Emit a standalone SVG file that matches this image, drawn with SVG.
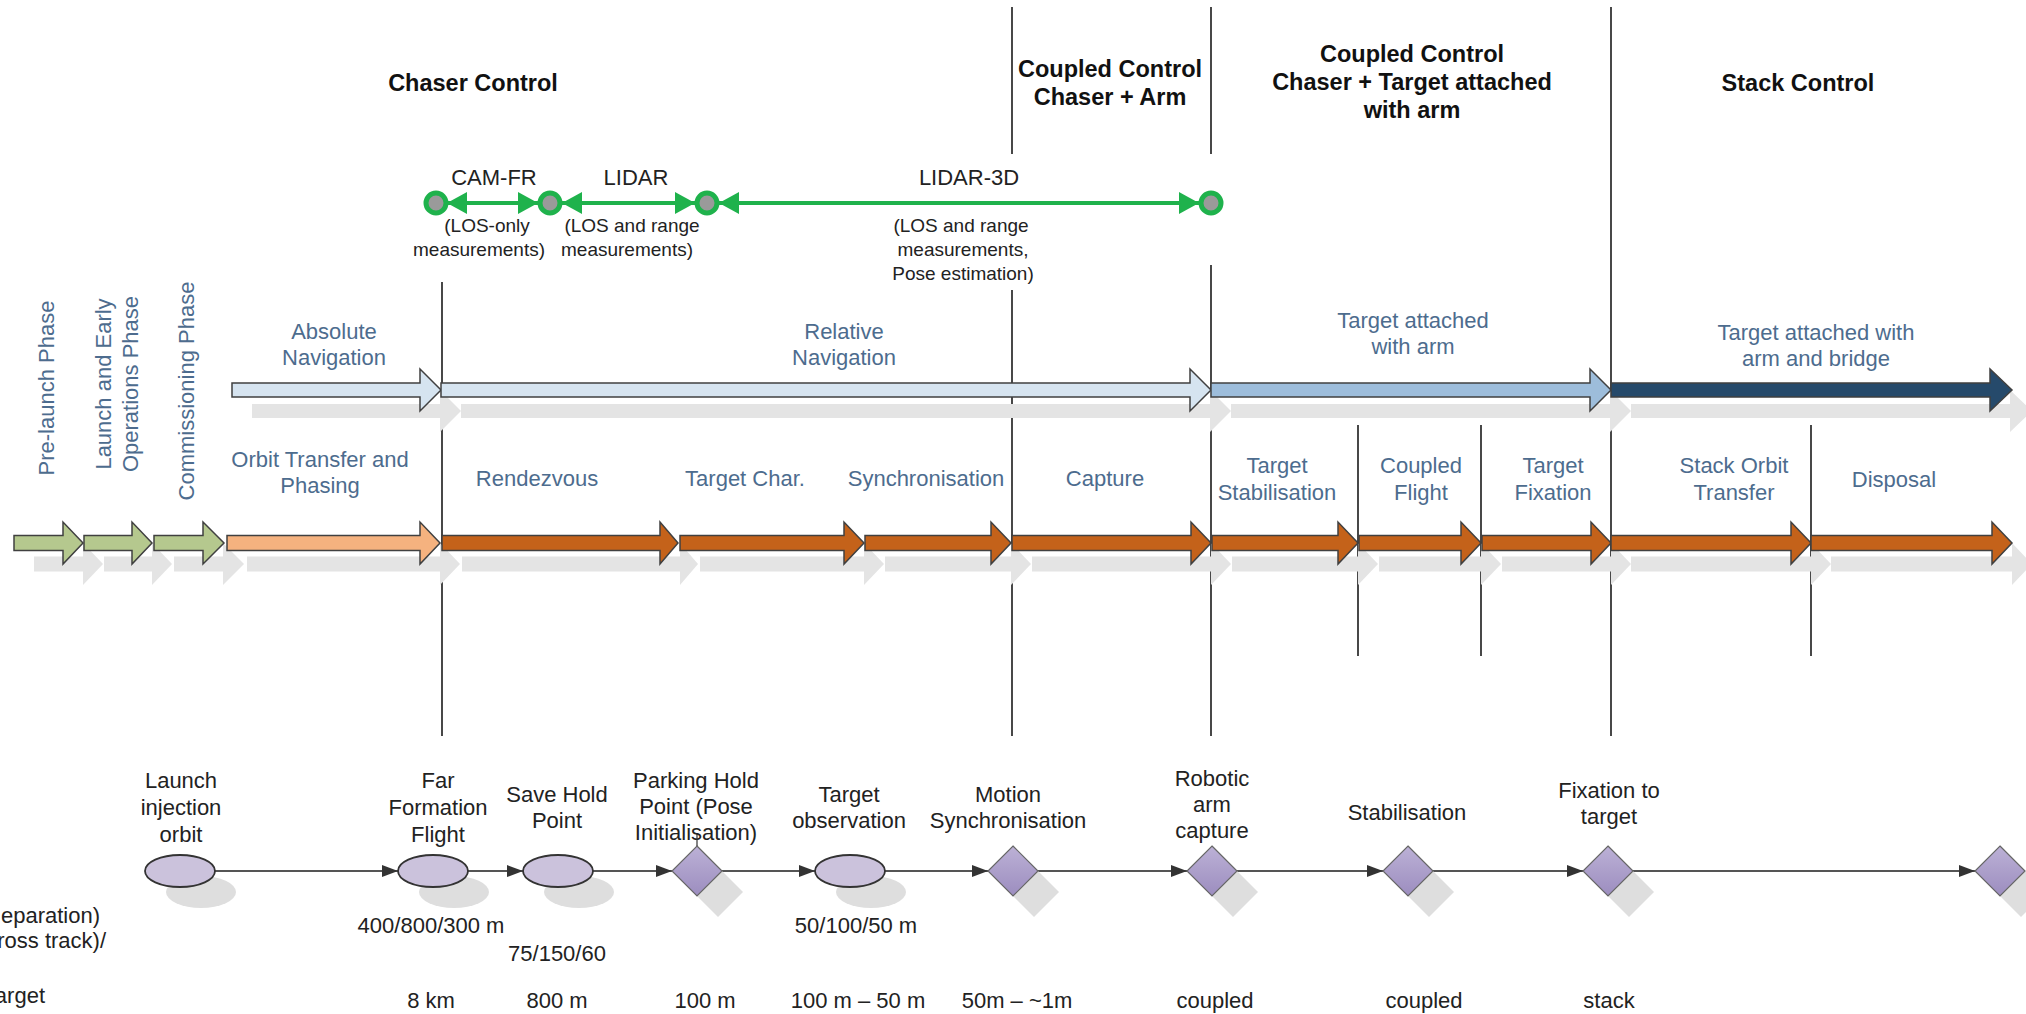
<svg xmlns="http://www.w3.org/2000/svg" width="2026" height="1014" viewBox="0 0 2026 1014">
<style>
text{font-family:"Liberation Sans",Arial,sans-serif;font-size:22px}
.ttl{font-weight:bold;fill:#111;text-anchor:middle;font-size:23.5px}
.blu{fill:#4d6c8e;text-anchor:middle}
.blk{fill:#222;text-anchor:middle}
.sen{fill:#222;text-anchor:middle}
.sub{fill:#222;text-anchor:middle;font-size:19px}
.sh{fill:#e4e4e4;stroke:none}
.arr{stroke:#404040;stroke-width:1.5}
.vl{stroke:#1a1a1a;stroke-width:1.6}
.lb{fill:#d6e4f0}.mb{fill:#9dbddb}.db{fill:#264a6b}
.gr{fill:#b5c88e}.lo{fill:#f5b27f}.do{fill:#c4621a}
.ell{fill:#cbc2dc;stroke:#333;stroke-width:1.8}
.dia{fill:url(#dg);stroke:#666;stroke-width:1.2}
.nsh{fill:#dedede}
.con{stroke:#555;stroke-width:1.8;fill:none;marker-end:url(#ah)}
.gl{stroke:#1fb24c;stroke-width:4;fill:none;marker-start:url(#gh);marker-end:url(#gh)}
.cir{fill:#9a9a9a;stroke:#1fb24c;stroke-width:5}
</style>
<defs>
<marker id="ah" markerUnits="userSpaceOnUse" markerWidth="16" markerHeight="12" refX="16" refY="6" orient="auto"><path d="M0,0 L16,6 L0,12 Z" fill="#333"/></marker>
<marker id="gh" markerUnits="userSpaceOnUse" markerWidth="20" markerHeight="22" refX="20" refY="11" orient="auto-start-reverse"><path d="M0,0 L20,11 L0,22 Z" fill="#1fb24c"/></marker>
<linearGradient id="dg" x1="0" y1="0" x2="0" y2="1"><stop offset="0" stop-color="#bcb1d6"/><stop offset="1" stop-color="#9c8dbf"/></linearGradient>
</defs>
<rect width="2026" height="1014" fill="#fff"/>

<g id="titles">
<text class="ttl" x="473" y="91">Chaser Control</text>
<text class="ttl" x="1110" y="77">Coupled Control</text>
<text class="ttl" x="1110" y="105">Chaser + Arm</text>
<text class="ttl" x="1412" y="62">Coupled Control</text>
<text class="ttl" x="1412" y="90">Chaser + Target attached</text>
<text class="ttl" x="1412" y="118">with arm</text>
<text class="ttl" x="1798" y="91">Stack Control</text>
</g>

<g id="dividers">
<line class="vl" x1="442" y1="282" x2="442" y2="736"/>
<line class="vl" x1="1012" y1="7" x2="1012" y2="154"/>
<line class="vl" x1="1012" y1="290" x2="1012" y2="736"/>
<line class="vl" x1="1211" y1="7" x2="1211" y2="154"/>
<line class="vl" x1="1211" y1="265" x2="1211" y2="736"/>
<line class="vl" x1="1611" y1="7" x2="1611" y2="736"/>
<line class="vl" x1="1358" y1="425" x2="1358" y2="656"/>
<line class="vl" x1="1481" y1="425" x2="1481" y2="656"/>
<line class="vl" x1="1811" y1="425" x2="1811" y2="656"/>
</g>

<g id="sensors">
<g id="sensor-lines">
<line class="gl" x1="447" y1="203" x2="538" y2="203"/>
<line class="gl" x1="562" y1="203" x2="695" y2="203"/>
<line class="gl" x1="719" y1="203" x2="1199" y2="203"/>
</g>
<circle class="cir" cx="436" cy="203" r="10"/>
<circle class="cir" cx="550" cy="203" r="10"/>
<circle class="cir" cx="707" cy="203" r="10"/>
<circle class="cir" cx="1211" cy="203" r="10"/>
<text class="sen" x="494" y="185">CAM-FR</text>
<text class="sen" x="636" y="185">LIDAR</text>
<text class="sen" x="969" y="185">LIDAR-3D</text>
<text class="sub" x="487" y="232">(LOS-only</text>
<text class="sub" x="479" y="256">measurements)</text>
<text class="sub" x="632" y="232">(LOS and range</text>
<text class="sub" x="627" y="256">measurements)</text>
<text class="sub" x="961" y="232">(LOS and range</text>
<text class="sub" x="963" y="256">measurements,</text>
<text class="sub" x="963" y="280">Pose estimation)</text>
</g>

<g id="nav-shadows" class="sh" transform="translate(20,21)">
<path d="M232,383 L420,383 L420,369 L441,390 L420,411 L420,397 L232,397 Z"/>
<path d="M441,383 L1190,383 L1190,369 L1211,390 L1190,411 L1190,397 L441,397 Z"/>
<path d="M1211,383 L1590,383 L1590,369 L1611,390 L1590,411 L1590,397 L1211,397 Z"/>
<path d="M1611,383 L1990,383 L1990,369 L2012,390 L1990,411 L1990,397 L1611,397 Z"/>
</g>
<g id="phase-shadows" class="sh" transform="translate(20,21)">
<path d="M14,535.5 L63,535.5 L63,522 L83,543 L63,564 L63,550.5 L14,550.5 Z"/>
<path d="M84,535.5 L132,535.5 L132,522 L152,543 L132,564 L132,550.5 L84,550.5 Z"/>
<path d="M154,535.5 L203,535.5 L203,522 L224,543 L203,564 L203,550.5 L154,550.5 Z"/>
<path d="M227,535.5 L420,535.5 L420,522 L440,543 L420,564 L420,550.5 L227,550.5 Z"/>
<path d="M442,535.5 L660,535.5 L660,522 L678,543 L660,564 L660,550.5 L442,550.5 Z"/>
<path d="M680,535.5 L844,535.5 L844,522 L864,543 L844,564 L844,550.5 L680,550.5 Z"/>
<path d="M865,535.5 L991,535.5 L991,522 L1011,543 L991,564 L991,550.5 L865,550.5 Z"/>
<path d="M1012,535.5 L1191,535.5 L1191,522 L1211,543 L1191,564 L1191,550.5 L1012,550.5 Z"/>
<path d="M1212,535.5 L1338,535.5 L1338,522 L1358,543 L1338,564 L1338,550.5 L1212,550.5 Z"/>
<path d="M1359,535.5 L1461,535.5 L1461,522 L1481,543 L1461,564 L1461,550.5 L1359,550.5 Z"/>
<path d="M1482,535.5 L1591,535.5 L1591,522 L1611,543 L1591,564 L1591,550.5 L1482,550.5 Z"/>
<path d="M1611,535.5 L1791,535.5 L1791,522 L1811,543 L1791,564 L1791,550.5 L1611,550.5 Z"/>
<path d="M1811,535.5 L1992,535.5 L1992,522 L2012,543 L1992,564 L1992,550.5 L1811,550.5 Z"/>
</g>

<g id="navigation">
<g id="abs-nav"><path class="arr lb" d="M232,383 L420,383 L420,369 L441,390 L420,411 L420,397 L232,397 Z"/>
<text class="blu" x="334" y="339">Absolute</text><text class="blu" x="334" y="365">Navigation</text></g>
<g id="rel-nav"><path class="arr lb" d="M441,383 L1190,383 L1190,369 L1211,390 L1190,411 L1190,397 L441,397 Z"/>
<text class="blu" x="844" y="339">Relative</text><text class="blu" x="844" y="365">Navigation</text></g>
<g id="att-arm"><path class="arr mb" d="M1211,383 L1590,383 L1590,369 L1611,390 L1590,411 L1590,397 L1211,397 Z"/>
<text class="blu" x="1413" y="328">Target attached</text><text class="blu" x="1413" y="354">with arm</text></g>
<g id="att-bridge"><path class="arr db" d="M1611,383 L1990,383 L1990,369 L2012,390 L1990,411 L1990,397 L1611,397 Z"/>
<text class="blu" x="1816" y="340">Target attached with</text><text class="blu" x="1816" y="366">arm and bridge</text></g>
</g>

<g id="phases">
<g id="pre-launch"><path class="arr gr" d="M14,535.5 L63,535.5 L63,522 L83,543 L63,564 L63,550.5 L14,550.5 Z"/>
<text class="blu" transform="translate(54,388) rotate(-90)">Pre-launch Phase</text></g>
<g id="leop"><path class="arr gr" d="M84,535.5 L132,535.5 L132,522 L152,543 L132,564 L132,550.5 L84,550.5 Z"/>
<text class="blu" transform="translate(111,384) rotate(-90)">Launch and Early</text>
<text class="blu" transform="translate(138,384) rotate(-90)">Operations Phase</text></g>
<g id="commissioning"><path class="arr gr" d="M154,535.5 L203,535.5 L203,522 L224,543 L203,564 L203,550.5 L154,550.5 Z"/>
<text class="blu" transform="translate(194,391) rotate(-90)">Commissioning Phase</text></g>
<g id="orbit-transfer"><path class="arr lo" d="M227,535.5 L420,535.5 L420,522 L440,543 L420,564 L420,550.5 L227,550.5 Z"/>
<text class="blu" x="320" y="467">Orbit Transfer and</text><text class="blu" x="320" y="493">Phasing</text></g>
<g id="rendezvous"><path class="arr do" d="M442,535.5 L660,535.5 L660,522 L678,543 L660,564 L660,550.5 L442,550.5 Z"/>
<text class="blu" x="537" y="486">Rendezvous</text></g>
<g id="target-char"><path class="arr do" d="M680,535.5 L844,535.5 L844,522 L864,543 L844,564 L844,550.5 L680,550.5 Z"/>
<text class="blu" x="745" y="486">Target Char.</text></g>
<g id="synchronisation"><path class="arr do" d="M865,535.5 L991,535.5 L991,522 L1011,543 L991,564 L991,550.5 L865,550.5 Z"/>
<text class="blu" x="926" y="486">Synchronisation</text></g>
<g id="capture"><path class="arr do" d="M1012,535.5 L1191,535.5 L1191,522 L1211,543 L1191,564 L1191,550.5 L1012,550.5 Z"/>
<text class="blu" x="1105" y="486">Capture</text></g>
<g id="target-stab"><path class="arr do" d="M1212,535.5 L1338,535.5 L1338,522 L1358,543 L1338,564 L1338,550.5 L1212,550.5 Z"/>
<text class="blu" x="1277" y="473">Target</text><text class="blu" x="1277" y="500">Stabilisation</text></g>
<g id="coupled-flight"><path class="arr do" d="M1359,535.5 L1461,535.5 L1461,522 L1481,543 L1461,564 L1461,550.5 L1359,550.5 Z"/>
<text class="blu" x="1421" y="473">Coupled</text><text class="blu" x="1421" y="500">Flight</text></g>
<g id="target-fix"><path class="arr do" d="M1482,535.5 L1591,535.5 L1591,522 L1611,543 L1591,564 L1591,550.5 L1482,550.5 Z"/>
<text class="blu" x="1553" y="473">Target</text><text class="blu" x="1553" y="500">Fixation</text></g>
<g id="stack-orbit"><path class="arr do" d="M1611,535.5 L1791,535.5 L1791,522 L1811,543 L1791,564 L1791,550.5 L1611,550.5 Z"/>
<text class="blu" x="1734" y="473">Stack Orbit</text><text class="blu" x="1734" y="500">Transfer</text></g>
<g id="disposal"><path class="arr do" d="M1811,535.5 L1992,535.5 L1992,522 L2012,543 L1992,564 L1992,550.5 L1811,550.5 Z"/>
<text class="blu" x="1894" y="487">Disposal</text></g>
</g>

<g id="connectors">
<line class="con" x1="215" y1="871" x2="398" y2="871"/>
<line class="con" x1="468" y1="871" x2="523" y2="871"/>
<line class="con" x1="593" y1="871" x2="672" y2="871"/>
<line class="con" x1="722" y1="871" x2="815" y2="871"/>
<line class="con" x1="885" y1="871" x2="988" y2="871"/>
<line class="con" x1="1038" y1="871" x2="1187" y2="871"/>
<line class="con" x1="1237" y1="871" x2="1383" y2="871"/>
<line class="con" x1="1433" y1="871" x2="1583" y2="871"/>
<line class="con" x1="1633" y1="871" x2="1975" y2="871"/>
</g>

<g id="n-launch"><ellipse class="nsh" cx="201" cy="892" rx="35" ry="16"/><ellipse class="ell" cx="180" cy="871" rx="35" ry="16"/>
<text class="blk" x="181" y="788">Launch</text><text class="blk" x="181" y="815">injection</text><text class="blk" x="181" y="842">orbit</text></g>
<g id="n-far"><ellipse class="nsh" cx="454" cy="892" rx="35" ry="16"/><ellipse class="ell" cx="433" cy="871" rx="35" ry="16"/>
<text class="blk" x="438" y="788">Far</text><text class="blk" x="438" y="815">Formation</text><text class="blk" x="438" y="842">Flight</text>
<text class="blk" x="431" y="933">400/800/300 m</text><text class="blk" x="431" y="1008">8 km</text></g>
<g id="n-save"><ellipse class="nsh" cx="579" cy="892" rx="35" ry="16"/><ellipse class="ell" cx="558" cy="871" rx="35" ry="16"/>
<text class="blk" x="557" y="802">Save Hold</text><text class="blk" x="557" y="828">Point</text>
<text class="blk" x="557" y="961">75/150/60</text><text class="blk" x="557" y="1008">800 m</text></g>
<g id="n-parking"><path class="nsh" d="M718,867 L743,892 L718,917 L693,892 Z"/><path class="dia" d="M697,846 L722,871 L697,896 L672,871 Z"/>
<text class="blk" x="696" y="788">Parking Hold</text><text class="blk" x="696" y="814">Point (Pose</text><text class="blk" x="696" y="840">Initialisation)</text>
<line x1="697" y1="834" x2="697" y2="846" stroke="#333" stroke-width="1.2"/>
<text class="blk" x="705" y="1008">100 m</text></g>
<g id="n-observation"><ellipse class="nsh" cx="871" cy="892" rx="35" ry="16"/><ellipse class="ell" cx="850" cy="871" rx="35" ry="16"/>
<text class="blk" x="849" y="802">Target</text><text class="blk" x="849" y="828">observation</text>
<text class="blk" x="856" y="933">50/100/50 m</text><text class="blk" x="858" y="1008">100 m – 50 m</text></g>
<g id="n-motion"><path class="nsh" d="M1034,867 L1059,892 L1034,917 L1009,892 Z"/><path class="dia" d="M1013,846 L1038,871 L1013,896 L988,871 Z"/>
<text class="blk" x="1008" y="802">Motion</text><text class="blk" x="1008" y="828">Synchronisation</text>
<text class="blk" x="1017" y="1008">50m – ~1m</text></g>
<g id="n-capture"><path class="nsh" d="M1233,867 L1258,892 L1233,917 L1208,892 Z"/><path class="dia" d="M1212,846 L1237,871 L1212,896 L1187,871 Z"/>
<text class="blk" x="1212" y="786">Robotic</text><text class="blk" x="1212" y="812">arm</text><text class="blk" x="1212" y="838">capture</text>
<text class="blk" x="1215" y="1008">coupled</text></g>
<g id="n-stab"><path class="nsh" d="M1429,867 L1454,892 L1429,917 L1404,892 Z"/><path class="dia" d="M1408,846 L1433,871 L1408,896 L1383,871 Z"/>
<text class="blk" x="1407" y="820">Stabilisation</text>
<text class="blk" x="1424" y="1008">coupled</text></g>
<g id="n-fix"><path class="nsh" d="M1629,867 L1654,892 L1629,917 L1604,892 Z"/><path class="dia" d="M1608,846 L1633,871 L1608,896 L1583,871 Z"/>
<text class="blk" x="1609" y="798">Fixation to</text><text class="blk" x="1609" y="824">target</text>
<text class="blk" x="1609" y="1008">stack</text></g>
<g id="n-end"><path class="nsh" d="M2021,867 L2046,892 L2021,917 L1996,892 Z"/><path class="dia" d="M2000,846 L2025,871 L2000,896 L1975,871 Z"/></g>

<g id="row-labels">
<text class="blk" style="text-anchor:end" x="100" y="923">eparation)</text>
<text class="blk" style="text-anchor:end" x="106" y="948">ross track)/</text>
<text class="blk" style="text-anchor:end" x="45" y="1003">arget</text>
</g>
</svg>
